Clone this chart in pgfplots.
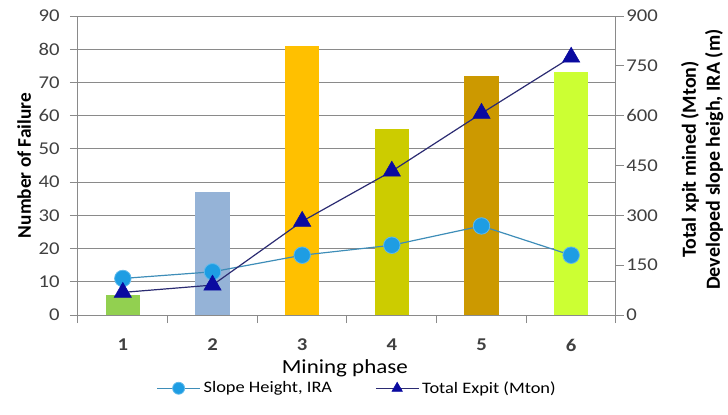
\documentclass[border=0pt]{standalone}
\usepackage{fontspec}
\setmainfont{Carlito}
\usepackage{pgfplots}
\pgfplotsset{compat=1.18}

\definecolor{phaseA}{HTML}{92D050}
\definecolor{phaseB}{HTML}{95B3D7}
\definecolor{phaseC}{HTML}{FFC000}
\definecolor{phaseD}{HTML}{CCCC00}
\definecolor{phaseE}{HTML}{CC9900}
\definecolor{phaseF}{HTML}{CCFF33}
\definecolor{slopeFill}{HTML}{1E9DE3}
\definecolor{slopeLine}{HTML}{3E8DB8}
\definecolor{expitFill}{HTML}{0A0AA0}
\definecolor{expitLine}{HTML}{2B2B72}
\definecolor{gridgray}{HTML}{8A8A8A}
\definecolor{ticktext}{HTML}{404040}

\pgfplotsset{
  common/.style={
    scale only axis,
    width=403.5pt, height=224.25pt,
    at={(0pt,0pt)}, anchor=south west,
    xmin=0.5, xmax=6.5,
    tick align=outside,
    major tick length=6pt,
    every tick/.style={draw=gridgray, line width=0.75pt},
    axis line style={draw=gridgray, line width=0.75pt},
    tick label style={font=\fontsize{13.5}{15}\selectfont, text=ticktext},
    /pgf/number format/assume math mode=true,
  },
}

\begin{document}
\begin{tikzpicture}
\path[use as bounding box] (-58.5pt,-74.25pt) rectangle (487.5pt,236.25pt);

% number of failures per mining phase (left axis)
\begin{axis}[
  common,
  ymin=0, ymax=90,
  ytick={0,10,...,90},
  ymajorgrids,
  grid style={draw=gridgray, line width=0.75pt},
  axis y line*=left,
  axis x line*=bottom,
  xtick={0.5,1.5,...,6.5},
  xticklabels={},
  extra x ticks={1,2,3,4,5,6},
  extra x tick labels={1,2,3,4,5,6},
  extra x tick style={major tick length=0pt, grid=none},
  xticklabel style={anchor=center, yshift=-22.5pt, font=\bfseries\fontsize{13.5}{15}\selectfont, text=ticktext, xscale=1.15},
  yticklabel style={anchor=east, inner sep=0pt, xshift=-7.5pt, xscale=1.15},
  every axis y label/.style={at={(rel axis cs:-0.1,0.5)}, rotate=90, anchor=center,
    font=\bfseries\fontsize{14.5}{17}\selectfont},
  ylabel={Number of Failure},
  every axis x label/.style={at={(rel axis cs:0.496,-0.177)}, anchor=center,
    font=\fontsize{15}{18}\selectfont, xscale=1.15},
  xlabel={Mining phase},
  ybar, bar width=0.385, bar shift=0pt,
]
\addplot[draw=none, fill=phaseA] coordinates {(1,6)};
\addplot[draw=none, fill=phaseB] coordinates {(2,37)};
\addplot[draw=none, fill=phaseC] coordinates {(3,81)};
\addplot[draw=none, fill=phaseD] coordinates {(4,56)};
\addplot[draw=none, fill=phaseE] coordinates {(5,72)};
\addplot[draw=none, fill=phaseF] coordinates {(6,73)};
\end{axis}

% slope height and total excavated tonnage (right axis)
\begin{axis}[
  common,
  ymin=0, ymax=900,
  ytick={0,150,...,900},
  axis y line*=right,
  axis x line=none,
  yticklabel style={anchor=west, inner sep=0pt, xshift=1.5pt, xscale=1.15},
  every axis y label/.style={at={(rel axis cs:1.16,0.52)}, rotate=90, anchor=center,
    align=center, font=\bfseries\fontsize{15}{18}\selectfont},
  ylabel={Total xpit mined (Mton)\\Developed slope heigh, IRA (m)},
  legend columns=2,
  legend style={draw=none, fill=none, at={(rel axis cs:0.52,-0.245)}, anchor=center,
    font=\fontsize{12}{14}\selectfont, nodes={xscale=1.15},
    /tikz/every even column/.append style={column sep=30pt}},
  legend image code/.code={
    \draw[mark repeat=2, mark phase=2, #1] plot coordinates {(0pt,0pt) (16pt,0pt) (32pt,0pt)};
  },
]
\addplot[slopeLine, line width=0.9pt, mark=*, mark size=6.2pt,
  mark options={fill=slopeFill, draw=slopeFill!70!white, line width=0.6pt},
  legend image post style={mark size=4.5pt}]
  coordinates {(1,110) (2,130) (3,180) (4,210) (5,268) (6,180)};
\addlegendentry{Slope Height, IRA}
\addplot[expitLine, line width=0.9pt, mark=triangle*, mark size=7.5pt,
  mark options={fill=expitFill, draw=expitFill, line width=0.4pt},
  legend image post style={mark size=4.5pt}]
  coordinates {(1,68) (2,90) (3,282) (4,433) (5,607) (6,776)};
\addlegendentry{Total Expit (Mton)}
\end{axis}
\end{tikzpicture}
\end{document}
